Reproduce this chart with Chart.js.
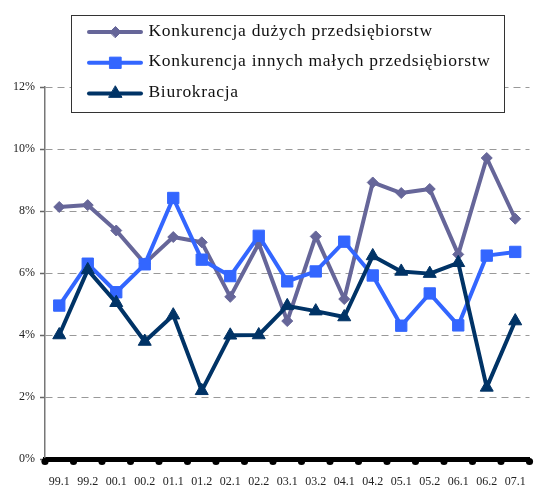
<!DOCTYPE html>
<html>
<head>
<meta charset="utf-8">
<script src="https://cdn.jsdelivr.net/npm/chart.js@4/dist/chart.umd.min.js"></script>
<style>
  html, body { margin: 0; padding: 0; background: #fff; }
  #wrap { width: 542px; height: 487px; position: relative; }
</style>
</head>
<body>
<div id="wrap"><canvas id="myChart"></canvas></div>
<script>
// data (percent)
const periods = ['99.1', '99.2', '00.1', '00.2', '01.1', '01.2', '02.1', '02.2', '03.1',
  '03.2', '04.1', '04.2', '05.1', '05.2', '06.1', '06.2', '07.1'];
const bigCompanies = [8.13, 8.19, 7.37, 6.31, 7.16, 6.99, 5.23, 6.95, 4.45,
  7.18, 5.16, 8.92, 8.58, 8.71, 6.6, 9.71, 7.75];
const smallCompanies = [4.95, 6.3, 5.38, 6.28, 8.42, 6.43, 5.9, 7.2, 5.73,
  6.05, 7.01, 5.92, 4.3, 5.34, 4.31, 6.56, 6.68];
const bureaucracy = [4.0, 6.1, 5.04, 3.79, 4.64, 2.2, 3.99, 4.0, 4.94,
  4.77, 4.58, 6.55, 6.05, 5.98, 6.33, 2.31, 4.45];
const yTicks = [0, 2, 4, 6, 8, 10, 12];

const SERIF = '"Liberation Serif", "Times New Roman", serif';

// thick x axis gets round dots on every category boundary
const axisDots = {
  id: 'axisDots',
  afterDraw(chart) {
    const x = chart.scales.x;
    const ctx = chart.ctx;
    ctx.save();
    ctx.fillStyle = '#000';
    for (let i = 0; i <= periods.length; i++) {
      const px = x.getPixelForValue(i - 0.5);
      ctx.beginPath();
      ctx.arc(px, x.top + 2.5, 3.6, 0, Math.PI * 2);
      ctx.fill();
    }
    ctx.restore();
  }
};

function drawMarker(ctx, style, r, x, y) {
  ctx.beginPath();
  if (style === 'rectRot') {
    ctx.moveTo(x - r, y); ctx.lineTo(x, y - r); ctx.lineTo(x + r, y); ctx.lineTo(x, y + r);
  } else if (style === 'rect') {
    const s = r * Math.SQRT1_2;
    ctx.rect(x - s, y - s, 2 * s, 2 * s);
  } else {
    ctx.moveTo(x, y - r);
    ctx.lineTo(x + r * 0.866, y + r / 2);
    ctx.lineTo(x - r * 0.866, y + r / 2);
  }
  ctx.closePath();
  ctx.fill();
  ctx.stroke();
}

// boxed legend sitting over the top of the plot, like the original
const boxLegend = {
  id: 'boxLegend',
  afterDraw(chart) {
    const ctx = chart.ctx;
    ctx.save();
    ctx.fillStyle = '#fff';
    ctx.fillRect(71.5, 15.5, 433, 97);
    ctx.strokeStyle = '#333';
    ctx.lineWidth = 1;
    ctx.strokeRect(71.5, 15.5, 433, 97);
    chart.data.datasets.forEach((ds, i) => {
      const y = 32 + i * 30.8;
      ctx.strokeStyle = ds.borderColor;
      ctx.lineWidth = 4;
      ctx.lineCap = 'round';
      ctx.beginPath();
      ctx.moveTo(89, y);
      ctx.lineTo(141, y);
      ctx.stroke();
      ctx.fillStyle = ds.backgroundColor;
      ctx.lineWidth = 1;
      drawMarker(ctx, ds.pointStyle, ds.pointRadius, 115.5, y);
      ctx.fillStyle = '#111';
      ctx.font = '17.5px ' + SERIF;
      ctx.letterSpacing = '0.7px';
      ctx.textBaseline = 'middle';
      ctx.textAlign = 'left';
      ctx.fillText(ds.label, 148.5, y - 1);
    });
    ctx.restore();
  }
};

new Chart(document.getElementById('myChart'), {
  type: 'line',
  data: {
    labels: periods,
    datasets: [
      {
        label: 'Konkurencja dużych przedsiębiorstw',
        data: bigCompanies,
        borderColor: '#666699',
        backgroundColor: '#666699',
        pointStyle: 'rectRot',
        pointRadius: 5.5,
        order: 2,
      },
      {
        label: 'Konkurencja innych małych przedsiębiorstw',
        data: smallCompanies,
        borderColor: '#3366FF',
        backgroundColor: '#3366FF',
        pointStyle: 'rect',
        pointRadius: 8,
        order: 1,
      },
      {
        label: 'Biurokracja',
        data: bureaucracy,
        borderColor: '#003366',
        backgroundColor: '#003366',
        pointStyle: 'triangle',
        pointRadius: 7.5,
        order: 0,
      },
    ].map(ds => Object.assign(ds, {
      borderWidth: 4,
      borderJoinStyle: 'round',
      borderCapStyle: 'round',
      pointBorderWidth: 1,
      pointBorderColor: ds.borderColor,
      pointBackgroundColor: ds.backgroundColor,
      pointHoverRadius: ds.pointRadius,
      tension: 0,
      fill: false,
    })),
  },
  options: {
    responsive: true,
    maintainAspectRatio: false,
    animation: false,
    layout: { padding: { top: 87, right: 3, left: 0, bottom: 0 } },
    plugins: {
      legend: { display: false },
      tooltip: { enabled: false },
    },
    scales: {
      x: {
        offset: true,
        grid: { display: false, drawTicks: false },
        border: { display: true, color: '#000', width: 5 },
        ticks: {
          color: '#222',
          font: { family: SERIF, size: 12 },
          padding: 16,
          maxRotation: 0,
          autoSkip: false,
        },
        afterFit: (scale) => { scale.height = 28; },
      },
      y: {
        min: 0,
        max: 12,
        afterBuildTicks: (scale) => { scale.ticks = yTicks.map(v => ({ value: v })); },
        grid: {
          color: (ctx) => (ctx.tick && ctx.tick.value === 0 ? 'rgba(0,0,0,0)' : '#999'),
          lineWidth: 1,
          drawTicks: true,
          tickLength: 5,
          tickColor: '#666',
          tickWidth: 1.5,
          tickBorderDash: [],
        },
        border: { display: true, color: '#777', width: 1.5, dash: [7, 5] },
        ticks: {
          color: '#222',
          font: { family: SERIF, size: 12 },
          padding: 5,
          callback: (v) => v + '%',
        },
        afterFit: (scale) => { scale.width = 45; },
      },
    },
  },
  plugins: [axisDots, boxLegend],
});
</script>
</body>
</html>
